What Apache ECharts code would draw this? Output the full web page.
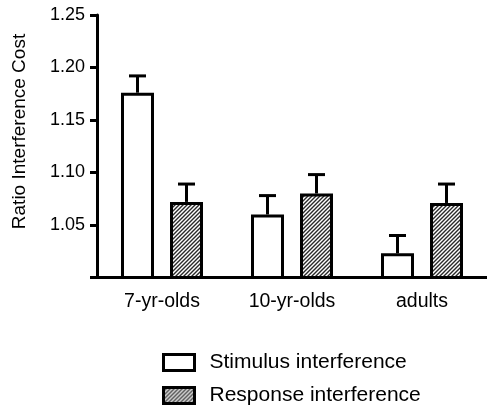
<!DOCTYPE html>
<html>
<head>
<meta charset="utf-8">
<script src="https://cdn.jsdelivr.net/npm/echarts@6/dist/echarts.min.js"></script>
<style>
html,body{margin:0;padding:0;background:#fff;}
#c{width:487px;height:406px;}
</style>
</head>
<body>
<div id="c"></div>
<script>
var categories = ['7-yr-olds', '10-yr-olds', 'adults'];
var stimulusValues = [1.176, 1.060, 1.023];
var stimulusErrors = [0.016, 0.018, 0.017];
var responseValues = [1.072, 1.080, 1.071];
var responseErrors = [0.017, 0.018, 0.018];
var yTickLabels = ['1.05', '1.10', '1.15', '1.20', '1.25'];
var seriesNames = ['Stimulus interference', 'Response interference'];

var FONT = '"Liberation Sans", Arial, Helvetica, sans-serif';

function makeHatch() {
  var c = document.createElement('canvas');
  var s = 4;
  c.width = s; c.height = s;
  var g = c.getContext('2d');
  g.fillStyle = '#ffffff';
  g.fillRect(0, 0, s, s);
  g.strokeStyle = '#2a2a2a';
  g.lineWidth = 1.4;
  g.beginPath();
  g.moveTo(-1, s + 1); g.lineTo(s + 1, -1);
  g.moveTo(-1, 1); g.lineTo(1, -1);
  g.moveTo(s - 1, s + 1); g.lineTo(s + 1, s - 1);
  g.stroke();
  return c;
}
var hatch = { image: makeHatch(), repeat: 'repeat' };

var BAR_W = 33;
var BAR_GAP_PX = 16;
function errorSeries(vals, errs, sideSign) {
  return {
    type: 'custom',
    z: 3,
    silent: true,
    data: vals.map(function (v, i) { return [i, v, v + errs[i]]; }),
    renderItem: function (params, api) {
      var off = sideSign * (BAR_W + BAR_GAP_PX) / 2;
      var p0 = api.coord([api.value(0), api.value(1)]);
      var p1 = api.coord([api.value(0), api.value(2)]);
      var x = p0[0] + off;
      var cap = 8.5;
      var st = { stroke: '#000', lineWidth: 3, fill: null };
      return {
        type: 'group',
        children: [
          { type: 'line', shape: { x1: x, y1: p0[1], x2: x, y2: p1[1] }, style: st },
          { type: 'line', shape: { x1: x - cap, y1: p1[1], x2: x + cap, y2: p1[1] }, style: st }
        ]
      };
    }
  };
}

function legendFor(i, top, fill) {
  return {
    orient: 'vertical',
    left: 162,
    top: top,
    padding: 0,
    itemWidth: 31,
    itemHeight: 16,
    icon: 'rect',
    textStyle: { fontFamily: FONT, fontSize: 21, color: '#000', padding: [0, 0, 0, 10] },
    data: [{ name: seriesNames[i], itemStyle: { color: fill, borderColor: '#000', borderWidth: 3 } }]
  };
}

var chart = echarts.init(document.getElementById('c'), null, { renderer: 'canvas' });
chart.setOption({
  animation: false,
  backgroundColor: '#ffffff',
  textStyle: { fontFamily: FONT },
  grid: { left: 97, top: 15, width: 393, height: 262.5 },
  legend: [legendFor(0, 352, '#fff'), legendFor(1, 385, hatch)],
  graphic: [{
    type: 'text',
    x: 20, y: 131.5,
    rotation: Math.PI / 2,
    style: {
      text: 'Ratio Interference Cost',
      font: '19px ' + FONT,
      fill: '#000',
      align: 'center',
      verticalAlign: 'middle'
    }
  }],
  xAxis: {
    type: 'category',
    data: categories,
    axisLine: { lineStyle: { color: '#000', width: 3 } },
    axisTick: { alignWithLabel: true, length: 8, lineStyle: { color: '#000', width: 3 } },
    axisLabel: { color: '#000', fontSize: 19.5, fontFamily: FONT, margin: 14 }
  },
  yAxis: {
    type: 'value',
    min: 1.00,
    max: 1.25,
    interval: 0.05,
    splitLine: { show: false },
    axisLine: { show: true, lineStyle: { color: '#000', width: 3 } },
    axisTick: { show: true, length: 7, lineStyle: { color: '#000', width: 3 } },
    axisLabel: {
      color: '#000', fontSize: 18, fontFamily: FONT, margin: 12,
      formatter: function (v) {
        var s = v.toFixed(2);
        return yTickLabels.indexOf(s) >= 0 ? s : '';
      }
    }
  },
  series: [
    {
      name: seriesNames[0],
      type: 'bar',
      barWidth: BAR_W,
      barGap: (BAR_GAP_PX / BAR_W * 100) + '%',
      data: stimulusValues,
      itemStyle: { color: '#fff', borderColor: '#000', borderWidth: 3 }
    },
    {
      name: seriesNames[1],
      type: 'bar',
      barWidth: BAR_W,
      data: responseValues,
      itemStyle: { color: hatch, borderColor: '#000', borderWidth: 3 }
    },
    errorSeries(stimulusValues, stimulusErrors, -1),
    errorSeries(responseValues, responseErrors, 1)
  ]
});
</script>
</body>
</html>
